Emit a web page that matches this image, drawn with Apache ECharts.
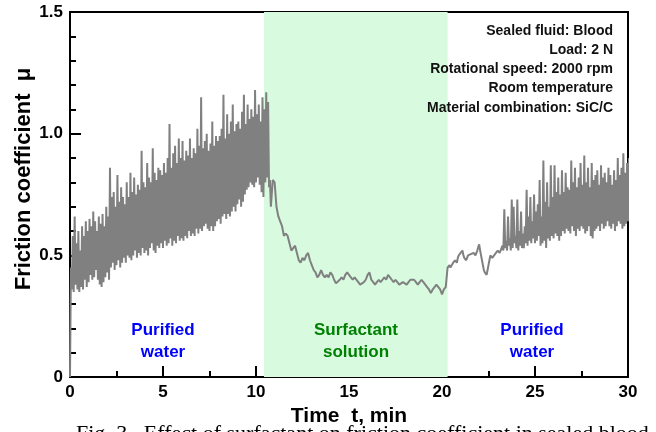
<!DOCTYPE html>
<html>
<head>
<meta charset="utf-8">
<script src="https://cdn.jsdelivr.net/npm/echarts@6/dist/echarts.min.js"></script>
<style>
  html, body { margin: 0; padding: 0; background: #fff; }
  #main { width: 656px; height: 432px; }
</style>
</head>
<body>
<div id="main"></div>
<script>
// sampling step of the logger (min)
var step = 0.1;

// purified water, 0 - 10.7 min : low / high of each oscillation
var seg1Start = 0;
var seg1Low = [
    0, 0.36, 0.35, 0.38, 0.36, 0.35, 0.37, 0.36, 0.40, 0.37,
    0.39, 0.42, 0.40, 0.41, 0.44, 0.40, 0.38, 0.37, 0.39, 0.41,
    0.43, 0.40, 0.45, 0.47, 0.44, 0.46, 0.48, 0.45, 0.47, 0.49,
    0.47, 0.50, 0.49, 0.48, 0.50, 0.52, 0.49, 0.51, 0.50, 0.53,
    0.51, 0.52, 0.50, 0.53, 0.55, 0.52, 0.51, 0.54, 0.53, 0.55,
    0.53, 0.56, 0.54, 0.55, 0.57, 0.54, 0.56, 0.55, 0.58, 0.56,
    0.57, 0.56, 0.58, 0.57, 0.60, 0.58, 0.59, 0.58, 0.61, 0.59,
    0.61, 0.60, 0.62, 0.63, 0.61, 0.60, 0.62, 0.60, 0.62, 0.64,
    0.65, 0.63, 0.66, 0.67, 0.65, 0.67, 0.66, 0.68, 0.70, 0.68,
    0.71, 0.73, 0.70, 0.72, 0.75, 0.77, 0.78, 0.80, 0.79, 0.78,
    0.80, 0.82, 0.79, 0.76, 0.74, 0.80, 0.82, 0.78
];
var seg1High = [
    0.45, 0.58, 0.66, 0.55, 0.60, 0.52, 0.62, 0.58, 0.64, 0.60,
    0.65, 0.62, 0.68, 0.64, 0.60, 0.66, 0.63, 0.67, 0.62, 0.70,
    0.66, 0.86, 0.74, 0.76, 0.70, 0.83, 0.72, 0.78, 0.74, 0.71,
    0.80, 0.74, 0.84, 0.76, 0.82, 0.75, 0.79, 0.77, 0.93, 0.80,
    0.78, 0.88, 0.82, 0.80, 0.94, 0.84, 0.81, 0.86, 0.85, 0.83,
    0.88, 0.84, 0.90, 1.04, 0.86, 0.92, 0.95, 0.88, 0.98, 0.90,
    0.97, 0.89, 0.93, 0.91, 0.98, 0.90, 0.94, 0.92, 1.02, 0.95,
    1.15, 0.94, 0.97, 1.00, 0.93, 0.96, 1.05, 0.95, 0.99, 0.97,
    0.99, 1.02, 1.16, 0.98, 1.08, 1.00, 1.05, 1.12, 1.01, 1.04,
    1.05, 1.02, 1.09, 1.16, 1.04, 1.12, 1.06, 1.10, 1.07, 1.18,
    1.08, 1.12, 1.05, 1.15, 1.10, 1.17, 1.13, 0.81
];

// surfactant solution, 10.8 - 20.3 min
var seg2Start = 10.8;
var seg2Values = [
    0.70, 0.81, 0.80, 0.70, 0.66, 0.64, 0.62, 0.58, 0.59, 0.58,
    0.55, 0.52, 0.53, 0.54, 0.51, 0.48, 0.47, 0.49, 0.48, 0.50,
    0.51, 0.48, 0.46, 0.44, 0.43, 0.41, 0.42, 0.44, 0.42, 0.41,
    0.42, 0.41, 0.43, 0.42, 0.40, 0.385, 0.39, 0.40, 0.41, 0.40,
    0.42, 0.43, 0.42, 0.41, 0.40, 0.41, 0.405, 0.39, 0.38, 0.38,
    0.39, 0.40, 0.42, 0.43, 0.40, 0.39, 0.38, 0.39, 0.40, 0.39,
    0.40, 0.41, 0.40, 0.42, 0.425, 0.40, 0.39, 0.40, 0.39, 0.38,
    0.38, 0.39, 0.39, 0.38, 0.39, 0.40, 0.405, 0.40, 0.39, 0.38,
    0.39, 0.40, 0.39, 0.38, 0.37, 0.36, 0.345, 0.36, 0.37, 0.38,
    0.375, 0.36, 0.34, 0.36, 0.37, 0.45
];

// purified water again, 20.4 - 30 min
var seg3Start = 20.4;
var seg3Low = [
    0.46, 0.445, 0.47, 0.48, 0.47, 0.50, 0.51, 0.52, 0.49, 0.48,
    0.50, 0.50, 0.51, 0.51, 0.50, 0.52, 0.545, 0.50, 0.46, 0.43,
    0.42, 0.46, 0.50, 0.49, 0.50, 0.51, 0.52, 0.51, 0.53, 0.52,
    0.53, 0.52, 0.54, 0.52, 0.53, 0.55, 0.53, 0.52, 0.54, 0.53,
    0.53, 0.55, 0.54, 0.56, 0.55, 0.57, 0.55, 0.56, 0.58, 0.54,
    0.55, 0.56, 0.53, 0.57, 0.56, 0.58, 0.57, 0.59, 0.58, 0.56,
    0.58, 0.60, 0.59, 0.61, 0.60, 0.59, 0.62, 0.60, 0.58, 0.61,
    0.60, 0.62, 0.61, 0.59, 0.60, 0.62, 0.58, 0.57, 0.60, 0.61,
    0.62, 0.60, 0.63, 0.61, 0.62, 0.64, 0.62, 0.61, 0.63, 0.60,
    0.62, 0.64, 0.63, 0.61, 0.62, 0.63, 0.64
];
var seg3High = [
    0.45, 0.455, 0.475, 0.475, 0.49, 0.505, 0.515, 0.50, 0.485, 0.49,
    0.50, 0.505, 0.51, 0.505, 0.51, 0.535, 0.52, 0.48, 0.44, 0.425,
    0.44, 0.48, 0.495, 0.495, 0.505, 0.515, 0.515, 0.52, 0.54, 0.69,
    0.56, 0.66, 0.57, 0.73, 0.70, 0.58, 0.73, 0.60, 0.68, 0.59,
    0.62, 0.77, 0.66, 0.74, 0.64, 0.75, 0.68, 0.71, 0.81, 0.66,
    0.89, 0.72, 0.80, 0.70, 0.87, 0.74, 0.87, 0.76, 0.82, 0.75,
    0.85, 0.76, 0.84, 0.78, 0.77, 0.89, 0.80, 0.86, 0.78, 0.82,
    0.88, 0.79, 0.91, 0.80, 0.86, 0.78, 0.88, 0.81, 0.83, 0.85,
    0.79, 0.87, 0.82, 0.84, 0.80, 0.86, 0.83, 0.79, 0.85, 0.81,
    0.90, 0.83, 0.86, 0.92, 0.84, 0.88, 0.90
];

// surfactant period (min)
var bandFrom = 10.43;
var bandTo = 20.3;

var xTicks = [0, 5, 10, 15, 20, 25, 30];
var yTicks = [0, 0.5, 1.0, 1.5];

var notes = [
    'Sealed fluid: Blood',
    'Load: 2 N',
    'Rotational speed: 2000 rpm',
    'Room temperature',
    'Material combination: SiC/C'
];

function interleave(start, low, high) {
    var out = [];
    for (var i = 0; i < low.length; i++) {
        var t = start + i * step;
        out.push([+t.toFixed(2), low[i]]);
        out.push([+(t + step / 2).toFixed(2), high[i]]);
    }
    return out;
}

function plain(start, vals) {
    var out = [];
    for (var i = 0; i < vals.length; i++) {
        out.push([+(start + i * step).toFixed(2), vals[i]]);
    }
    return out;
}

var lineData = interleave(seg1Start, seg1Low, seg1High)
    .concat(plain(seg2Start, seg2Values))
    .concat(interleave(seg3Start, seg3Low, seg3High));

var chart = echarts.init(document.getElementById('main'), null, { renderer: 'canvas' });

var bold = 'Liberation Sans';

var graphics = [];
for (var n = 0; n < notes.length; n++) {
    graphics.push({
        type: 'text', right: 43, top: 24 + n * 19.2, z: 100,
        style: { text: notes[n], font: 'bold 14px "Liberation Sans"', fill: '#111', textAlign: 'right' }
    });
}
graphics.push({
    type: 'text', x: 163, y: 341, z: 100,
    style: { text: 'Purified\nwater', font: 'bold 17px "Liberation Sans"', fill: '#0000ff',
        textAlign: 'center', textVerticalAlign: 'middle', lineHeight: 22 }
});
graphics.push({
    type: 'text', x: 356, y: 341, z: 100,
    style: { text: 'Surfactant\nsolution', font: 'bold 17px "Liberation Sans"', fill: '#008000',
        textAlign: 'center', textVerticalAlign: 'middle', lineHeight: 22 }
});
graphics.push({
    type: 'text', x: 532, y: 341, z: 100,
    style: { text: 'Purified\nwater', font: 'bold 17px "Liberation Sans"', fill: '#0000ff',
        textAlign: 'center', textVerticalAlign: 'middle', lineHeight: 22 }
});
// y axis title, a bit above the centre like in the source figure
graphics.push({
    type: 'text', x: 24, y: 179, rotation: Math.PI / 2, z: 100,
    style: { text: 'Friction coefficient  \u03bc', font: 'bold 22px "Liberation Sans"', fill: '#000',
        textAlign: 'center', textVerticalAlign: 'middle' }
});
// figure caption, cut by the page edge
graphics.push({
    type: 'text', x: 76, y: 423, z: 100,
    style: { text: 'Fig. 3   Effect of surfactant on friction coefficient in sealed blood',
        font: '22px "Liberation Serif"', fill: '#000', textAlign: 'left', textVerticalAlign: 'top' }
});

var option = {
    animation: false,
    backgroundColor: '#fff',
    grid: {
        left: 70, right: 28, top: 12, bottom: 48,
        show: true, borderColor: '#000', borderWidth: 2, backgroundColor: 'transparent'
    },
    xAxis: {
        type: 'value', min: 0, max: 30, interval: 5,
        name: 'Time  t, min', nameLocation: 'middle', nameGap: 23,
        nameTextStyle: { fontFamily: bold, fontWeight: 'bold', fontSize: 21, color: '#000' },
        axisLine: { lineStyle: { color: '#000', width: 2 } },
        axisTick: { inside: true, length: 11, lineStyle: { color: '#000', width: 2 } },
        minorTick: { show: true, splitNumber: 2, length: 6, lineStyle: { color: '#000', width: 2 } },
        splitLine: { show: false },
        axisLabel: {
            margin: 7, fontFamily: bold, fontWeight: 'bold', fontSize: 17, color: '#000',
            formatter: function(v) { return xTicks.indexOf(v) >= 0 ? String(v) : ''; }
        }
    },
    yAxis: {
        type: 'value', min: 0, max: 1.5, interval: 0.5,
        axisLine: { lineStyle: { color: '#000', width: 2 } },
        axisTick: { inside: true, length: 11, lineStyle: { color: '#000', width: 2 } },
        minorTick: { show: true, splitNumber: 5, length: 6, lineStyle: { color: '#000', width: 2 } },
        splitLine: { show: false },
        axisLabel: {
            margin: 7, fontFamily: bold, fontWeight: 'bold', fontSize: 17, color: '#000',
            formatter: function(v) { return v === 0 ? '0' : v.toFixed(1); }
        }
    },
    series: [{
        type: 'line',
        data: lineData,
        symbol: 'none',
        z: 5,
        lineStyle: { color: '#808080', width: 2 },
        markArea: {
            silent: true,
            z: 1,
            itemStyle: { color: '#d8fadf' },
            data: [[{ xAxis: bandFrom }, { xAxis: bandTo }]]
        }
    }],
    graphic: graphics
};

option && chart.setOption(option);
console.log('points', lineData.length);
</script>
</body>
</html>
